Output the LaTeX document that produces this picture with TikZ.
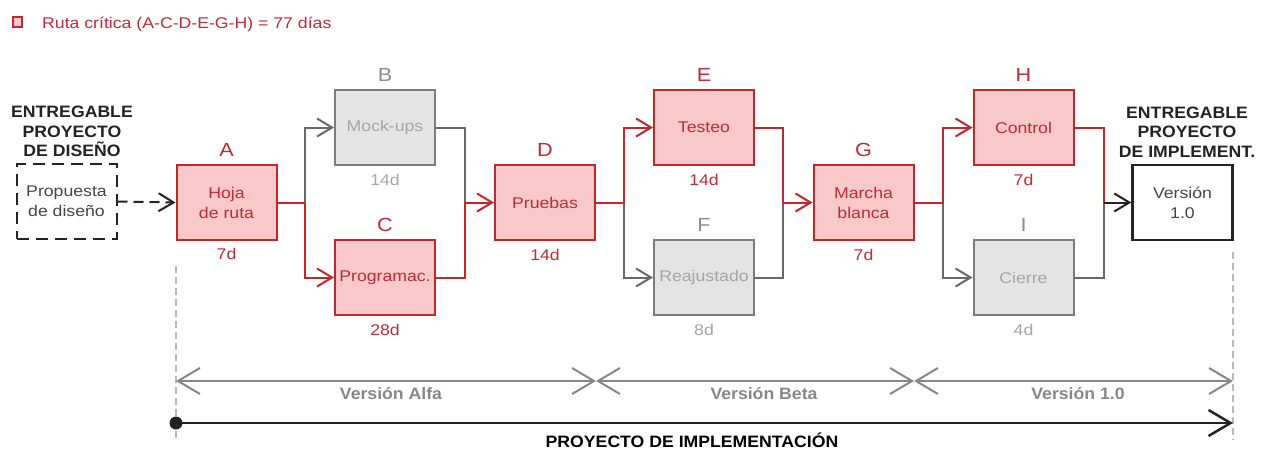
\documentclass[tikz,border=0pt]{standalone}
\usepackage{fontspec}
\setmainfont{Liberation Sans}[FakeStretch=1.14]
\newfontfamily\dgboldfam{Liberation Sans Bold}[FakeStretch=1.07]
\usetikzlibrary{arrows.meta}

% palette
\definecolor{critline}{RGB}{192,40,45}
\definecolor{critfill}{RGB}{249,200,200}
\definecolor{crittext}{RGB}{185,45,55}
\definecolor{altline}{RGB}{125,125,125}
\definecolor{altfill}{RGB}{228,228,228}
\definecolor{alttext}{RGB}{165,165,165}
\definecolor{altlabel}{RGB}{140,140,140}
\definecolor{connect}{RGB}{105,105,105}
\definecolor{ink}{RGB}{35,35,35}
\definecolor{softink}{RGB}{70,70,70}
\definecolor{guidegray}{RGB}{185,185,185}
\definecolor{phasegray}{RGB}{135,135,135}

% type sizes
\newcommand\dgbody{\fontsize{15.5}{20}\selectfont}
\newcommand\dgletter{\fontsize{19}{22}\selectfont}
\newcommand\dghead{\dgboldfam\fontsize{16.5}{19.5}\selectfont}

\tikzset{
  bigtip/.tip={Straight Barb[length=22pt,width=26pt]},
  smalltip/.tip={Straight Barb[length=15pt,width=18pt]}
}

\begin{document}
\begin{tikzpicture}[x=1pt,y=-1pt,
  task/.style={draw, line width=2pt, minimum width=100pt, minimum height=75pt,
    inner sep=0pt, align=center, font=\dgbody},
  crit/.style={task, draw=critline, fill=critfill, text=crittext},
  alt/.style={task, draw=altline, fill=altfill, text=alttext},
  letter/.style={anchor=base, font=\dgletter, inner sep=0pt},
  dur/.style={anchor=base, font=\dgbody, inner sep=0pt},
  head/.style={anchor=base, align=center, font=\dghead, text=ink, inner sep=0pt},
  phase/.style={anchor=base, font=\dghead, text=phasegray, inner sep=0pt},
  tip/.style={-smalltip},
  redc/.style={draw=critline, line width=2pt, line cap=rect},
  grayc/.style={draw=connect, line width=2pt, line cap=rect},
  guideline/.style={draw=guidegray, line width=1.2pt, dash pattern=on 7pt off 4pt}
]
\useasboundingbox (0,0) rectangle (1265,448);

% legend
\node[draw=critline, fill=critfill, line width=1.8pt, minimum width=9.5pt, minimum height=9.5pt, inner sep=0pt] (key) at (17.5,22) {};
\node[anchor=base west, font=\dgbody, text=crittext, inner sep=0pt] (keytext) at (42,28)
  {Ruta crítica (A-C-D-E-G-H) = 77 días};

% deliverables (base anchor sits on the last line)
\node[head] (inhead) at (72,156.5) {ENTREGABLE\\PROYECTO\\DE DISEÑO};
\node[task, draw=ink, dash pattern=on 12pt off 7pt, text=softink] (P) at (66.5,201.5) {Propuesta\\de diseño};
\node[head] (outhead) at (1187,157) {ENTREGABLE\\PROYECTO\\DE IMPLEMENT.};
\node[task, draw=ink, line width=2.5pt, text=softink] (V) at (1182.5,202.5) {Versión\\1.0};

% activities
\node[crit] (A) at (226.5,202.5) {Hoja\\de ruta};
\node[alt]  (B) at (385,127.5) {Mock-ups};
\node[crit] (C) at (385,277.5) {Programac.};
\node[crit] (D) at (545,202.5) {Pruebas};
\node[crit] (E) at (704,127.5) {Testeo};
\node[alt]  (F) at (704,277.5) {Reajustado};
\node[crit] (G) at (863.5,202.5) {Marcha\\blanca};
\node[crit] (H) at (1023.5,127.5) {Control};
\node[alt]  (I) at (1023.5,277.5) {Cierre};

% activity letters
\node[letter, text=crittext] (Al) at (226.5,156.5) {A};
\node[letter, text=altlabel] (Bl) at (385,81.5) {B};
\node[letter, text=crittext] (Cl) at (385,231.5) {C};
\node[letter, text=crittext] (Dl) at (545,156.5) {D};
\node[letter, text=crittext] (El) at (704,81.5) {E};
\node[letter, text=altlabel] (Fl) at (704,231.5) {F};
\node[letter, text=crittext] (Gl) at (863.5,156.5) {G};
\node[letter, text=crittext] (Hl) at (1023.5,81.5) {H};
\node[letter, text=altlabel] (Il) at (1023.5,231.5) {I};

% durations
\node[dur, text=crittext] (Ad) at (226.5,259) {7d};
\node[dur, text=alttext]  (Bd) at (385,185) {14d};
\node[dur, text=crittext] (Cd) at (385,335) {28d};
\node[dur, text=crittext] (Dd) at (545,260) {14d};
\node[dur, text=crittext] (Ed) at (704,185) {14d};
\node[dur, text=alttext]  (Fd) at (704,335) {8d};
\node[dur, text=crittext] (Gd) at (863.5,260) {7d};
\node[dur, text=crittext] (Hd) at (1023.5,185) {7d};
\node[dur, text=alttext]  (Id) at (1023.5,335) {4d};

% split and merge points
\coordinate (j1) at (305,202.5);
\coordinate (m1) at (465,202.5);
\coordinate (j2) at (624,202.5);
\coordinate (m2) at (783,202.5);
\coordinate (j3) at (943,202.5);
\coordinate (m3) at (1104,202.5);

% connectors
\draw[ink, line width=2pt, dash pattern=on 10pt off 6pt, tip] (P.east) -- (A.west);

\draw[redc] (A.east) -- (j1);
\draw[grayc, tip] (j1) |- (B.west);
\draw[redc, tip] (j1) |- (C.west);
\draw[grayc] (B.east) -| (m1);
\draw[redc] (C.east) -| (m1);
\draw[redc, tip] (m1) -- (D.west);

\draw[redc] (D.east) -- (j2);
\draw[grayc, tip] (j2) |- (F.west);
\draw[redc, tip] (j2) |- (E.west);
\draw[grayc] (F.east) -| (m2);
\draw[redc] (E.east) -| (m2);
\draw[redc, tip] (m2) -- (G.west);

\draw[redc] (G.east) -- (j3);
\draw[grayc, tip] (j3) |- (I.west);
\draw[redc, tip] (j3) |- (H.west);
\draw[grayc] (I.east) -| (m3);
\draw[redc] (H.east) -| (m3);
\draw[draw=ink, line width=2pt, tip] (m3) -- (V.west);

% guides down to the timeline
\coordinate (ga) at (176,266);
\coordinate (gb) at (176,440);
\coordinate (gc) at (1233,252);
\coordinate (gd) at (1233,440);
\draw[guideline] (ga) -- (gb);
\draw[guideline] (gc) -- (gd);

% phases
\coordinate (t0) at (176,381);
\coordinate (t1) at (596,381);
\coordinate (t2) at (914,381);
\coordinate (t3) at (1233,381);
\draw[phasegray, line width=2pt, bigtip-bigtip] (t0) -- (t1);
\draw[phasegray, line width=2pt, bigtip-bigtip] (t1) -- (t2);
\draw[phasegray, line width=2pt, bigtip-bigtip] (t2) -- (t3);
\node[phase] (alfa) at (391,399) {Versión Alfa};
\node[phase] (beta) at (764,399) {Versión Beta};
\node[phase] (uno) at (1078,399) {Versión 1.0};

% project span
\node[circle, fill=ink, minimum size=13pt, inner sep=0pt] (start) at (176,423) {};
\coordinate (finish) at (1233,423);
\draw[ink, line width=2.5pt, -bigtip] (start.center) -- (finish);
\node[anchor=base, font=\dghead, text=black, inner sep=0pt] (proj) at (692,447) {PROYECTO DE IMPLEMENTACIÓN};
\end{tikzpicture}
\end{document}
